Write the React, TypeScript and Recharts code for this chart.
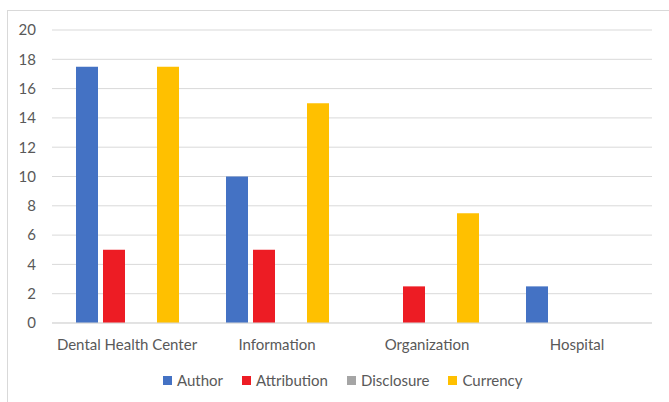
import React from "react";
import { BarChart, Bar, XAxis, YAxis, CartesianGrid, Legend } from "recharts";

const categories = ["Dental Health Center", "Information", "Organization", "Hospital"];
const author = [17.5, 10, 0, 2.5];
const attribution = [5, 5, 2.5, 0];
const disclosure = [0, 0, 0, 0];
const currency = [17.5, 15, 7.5, 0];
const yTicks = [0, 2, 4, 6, 8, 10, 12, 14, 16, 18, 20];

const series = [
  { key: "Author", values: author, color: "#4472C4" },
  { key: "Attribution", values: attribution, color: "#ED1C24" },
  { key: "Disclosure", values: disclosure, color: "#A5A5A5" },
  { key: "Currency", values: currency, color: "#FFC000" },
];

const data = categories.map((name, i) => {
  const row: Record<string, string | number> = { name };
  series.forEach((s) => {
    row[s.key] = s.values[i];
  });
  return row;
});

const FONT = "Lato, 'Open Sans', sans-serif";
const TEXT = "#595959";

function LegendBox() {
  return (
    <div style={{ display: "flex", paddingLeft: 163, fontFamily: FONT, fontSize: 15, color: TEXT, lineHeight: "17px" }}>
      {series.map((s) => (
        <div key={s.key} style={{ display: "flex", alignItems: "center", marginRight: 19 }}>
          <span style={{ width: 9, height: 9, background: s.color, display: "inline-block", marginRight: 5 }} />
          <span>{s.key}</span>
        </div>
      ))}
    </div>
  );
}

export default function App() {
  return (
    <div style={{ position: "absolute", left: 0, top: 0, width: 669, height: 402, background: "#fff" }}>
      <div
        style={{
          position: "absolute",
          left: 7,
          top: 10,
          width: 661,
          height: 400,
          border: "1px solid #D9D9D9",
          borderBottom: "none",
        }}
      />
      <div style={{ position: "absolute", left: 0, top: 0 }}>
        <BarChart
          width={669}
          height={402}
          data={data}
          margin={{ top: 30, right: 17, left: 8, bottom: 32 }}
          barCategoryGap={24}
          barGap={5}
        >
          <CartesianGrid vertical={false} stroke="#D9D9D9" />
          <XAxis
            dataKey="name"
            height={30}
            axisLine={{ stroke: "#D9D9D9" }}
            tickLine={false}
            tickMargin={10}
            tick={{ fontSize: 15, fill: TEXT, fontFamily: FONT }}
            interval={0}
          />
          <YAxis
            width={44}
            domain={[0, 20]}
            ticks={yTicks}
            axisLine={false}
            tickLine={false}
            tickMargin={10}
            tick={{ fontSize: 15, fill: TEXT, fontFamily: FONT }}
          />
          <Legend
            content={<LegendBox />}
            wrapperStyle={{ position: "absolute", top: 372, left: 0, width: 669 }}
          />
          {series.map((s) => (
            <Bar key={s.key} dataKey={s.key} fill={s.color} isAnimationActive={false} />
          ))}
        </BarChart>
      </div>
    </div>
  );
}
